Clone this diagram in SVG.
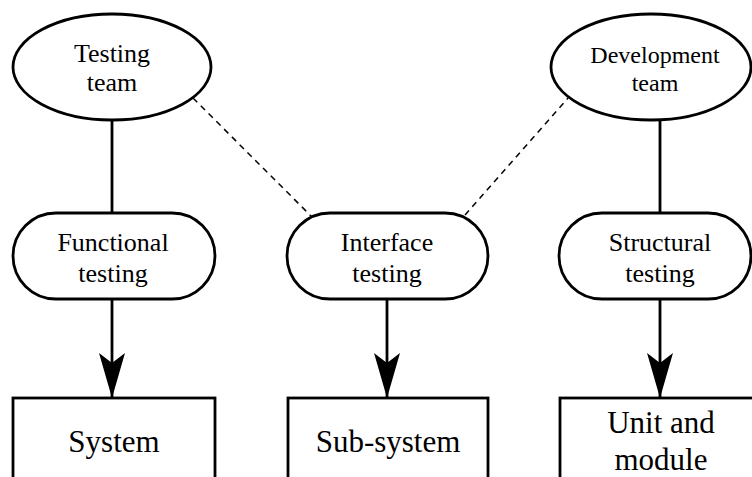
<svg xmlns="http://www.w3.org/2000/svg" width="752" height="477" viewBox="0 0 752 477">
<style>
.shape{fill:#fff;stroke:#000;stroke-width:2.8}
.t{font-family:'Liberation Serif','Times New Roman','DejaVu Serif',serif;fill:#000;text-anchor:middle}
.solid{stroke:#000;stroke-width:2.8;fill:none}
.dash{stroke:#000;stroke-width:1.5;fill:none;stroke-dasharray:6,5}
</style>
<defs>
<marker id="ah" markerUnits="userSpaceOnUse" markerWidth="46" markerHeight="26" refX="45" refY="13" orient="auto" viewBox="0 0 46 26">
<path d="M0,0 L10,13 L0,26 L45,13 Z" fill="#000"/>
</marker>
</defs>
<rect width="752" height="477" fill="#fff"/>
<g id="connectors">
<line class="solid" x1="112" y1="120" x2="112" y2="213"/>
<line class="solid" x1="660" y1="120" x2="660" y2="213"/>
<line class="solid" x1="112" y1="299" x2="112" y2="398" marker-end="url(#ah)"/>
<line class="solid" x1="387" y1="299" x2="387" y2="398" marker-end="url(#ah)"/>
<line class="solid" x1="660" y1="299" x2="660" y2="398" marker-end="url(#ah)"/>
<line class="dash" x1="193" y1="98" x2="312" y2="217"/>
<line class="dash" x1="465" y1="215" x2="568" y2="98"/>
</g>
<g id="testing-team">
<ellipse class="shape" cx="112" cy="67" rx="99" ry="53"/>
<text class="t" font-family="Liberation Serif, serif" x="112" y="62" font-size="26">Testing</text>
<text class="t" font-family="Liberation Serif, serif" x="112" y="91" font-size="26">team</text>
</g>
<g id="development-team">
<ellipse class="shape" cx="651" cy="67" rx="100" ry="53"/>
<text class="t" font-family="Liberation Serif, serif" x="655" y="63" font-size="24">Development</text>
<text class="t" font-family="Liberation Serif, serif" x="655" y="91" font-size="24">team</text>
</g>
<g id="functional-testing">
<rect class="shape" x="13" y="213" width="202" height="86" rx="43" ry="43"/>
<text class="t" font-family="Liberation Serif, serif" x="113" y="251" font-size="26">Functional</text>
<text class="t" font-family="Liberation Serif, serif" x="113" y="282" font-size="26">testing</text>
</g>
<g id="interface-testing">
<rect class="shape" x="287" y="213" width="201" height="86" rx="43" ry="43"/>
<text class="t" font-family="Liberation Serif, serif" x="387" y="251" font-size="26">Interface</text>
<text class="t" font-family="Liberation Serif, serif" x="387" y="282" font-size="26">testing</text>
</g>
<g id="structural-testing">
<rect class="shape" x="559" y="213" width="192" height="86" rx="43" ry="43"/>
<text class="t" font-family="Liberation Serif, serif" x="660" y="251" font-size="26">Structural</text>
<text class="t" font-family="Liberation Serif, serif" x="660" y="282" font-size="26">testing</text>
</g>
<g id="system">
<rect class="shape" x="13" y="398" width="202" height="100"/>
<text class="t" font-family="Liberation Serif, serif" x="114" y="452" font-size="31">System</text>
</g>
<g id="sub-system">
<rect class="shape" x="288" y="398" width="200" height="100"/>
<text class="t" font-family="Liberation Serif, serif" x="388" y="452" font-size="31">Sub-system</text>
</g>
<g id="unit-and-module">
<rect class="shape" x="560" y="398" width="200" height="100"/>
<text class="t" font-family="Liberation Serif, serif" x="661" y="433" font-size="31">Unit and</text>
<text class="t" font-family="Liberation Serif, serif" x="661" y="470" font-size="31">module</text>
</g>
</svg>
